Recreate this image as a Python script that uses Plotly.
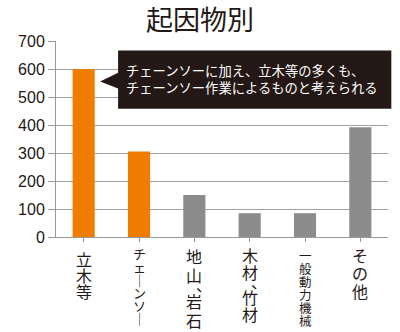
import plotly.graph_objects as go

categories = ["立木等", "チェーンソー", "地山、岩石", "木材、竹材", "一般動力機械", "その他"]
values = [600, 305, 150, 85, 85, 392]
highlight = [True, True, False, False, False, False]
y_ticks = [0, 100, 200, 300, 400, 500, 600, 700]
title_text = "起因物別"
note_lines = ["チェーンソーに加え、立木等の多くも、", "チェーンソー作業によるものと考えられる"]

# vertical label styling per category: (font size, char pitch, first char offset)
label_style = [(16, 16, 22), (13, 13, 16), (16, 18.5, 19), (16, 17, 18), (12.5, 13, 18), (16, 18, 18)]

ORANGE = "#F07D00"
GRAY = "#8C8C8C"
TXT = "#231815"
FONT = "Liberation Sans, Noto Sans CJK JP, sans-serif"
JFONT = "Noto Sans CJK JP, sans-serif"

fig = go.Figure()
fig.add_trace(go.Bar(
    x=list(range(len(categories))),
    y=values,
    width=0.4,
    marker=dict(color=[ORANGE if h else GRAY for h in highlight], line=dict(width=0)),
    hovertext=categories,
))

# vertical category labels, one annotation per character
VERT = {"ー": "｜"}
for i, (label, (size, pitch, first)) in enumerate(zip(categories, label_style)):
    off = first
    for j, ch in enumerate(label):
        if ch == "、":
            cpos = off - pitch * 0.5 + 4
            fig.add_annotation(xref="x", yref="paper", x=i, y=0, xanchor="center", yanchor="middle",
                               xshift=5 + 0.27 * size, yshift=-(cpos - 0.25 * size),
                               text=ch, showarrow=False,
                               font=dict(family=JFONT, size=size, color=TXT))
            off += pitch * 0.45
            continue
        fig.add_annotation(xref="x", yref="paper", x=i, y=0, xanchor="center", yanchor="middle",
                           yshift=-off, text=VERT.get(ch, ch), showarrow=False,
                           font=dict(family=JFONT, size=size, color=TXT))
        off += pitch

# callout box (decoration)
path = ("M 0.187 666 L 1.01 666 L 1.01 458 L 0.187 458 "
        "L 0.187 530 L 0.133 555 L 0.187 587 Z")
fig.add_shape(type="path", path=path, xref="paper", yref="y",
              fillcolor="#231815", line=dict(width=0), layer="above")
fig.add_annotation(xref="paper", yref="y", x=0.205, y=564,
                   xanchor="left", yanchor="middle", align="left",
                   text="<br>".join(note_lines), showarrow=False,
                   font=dict(family=JFONT, size=13.3, color="white"))

fig.update_layout(
    width=400, height=332,
    margin=dict(l=56, r=12, t=41, b=95),
    paper_bgcolor="white", plot_bgcolor="white",
    showlegend=False,
    title=dict(text=title_text, x=0.5, xref="container", xanchor="center",
               y=1 - 21 / 332, yref="container", yanchor="middle",
               font=dict(family=JFONT, size=27, color=TXT)),
    font=dict(family=FONT, color=TXT),
)
fig.update_xaxes(
    tickmode="array", tickvals=list(range(len(categories))), ticktext=[""] * len(categories),
    range=[-0.5, len(categories) - 0.5], automargin=False,
    showline=True, linecolor="#999999", linewidth=1,
    ticks="outside", ticklen=4, tickcolor="#999999",
    tickson="boundaries", showgrid=False,
)
fig.update_yaxes(
    range=[0, 700], tickvals=y_ticks, automargin=False,
    showline=True, linecolor="#999999", linewidth=1,
    ticks="outside", ticklen=7, tickcolor="#999999",
    showgrid=True, gridcolor="#A0A0A0", gridwidth=1, zeroline=False,
    tickfont=dict(family=FONT, size=16, color=TXT),
)
fig.write_html("out.html")
